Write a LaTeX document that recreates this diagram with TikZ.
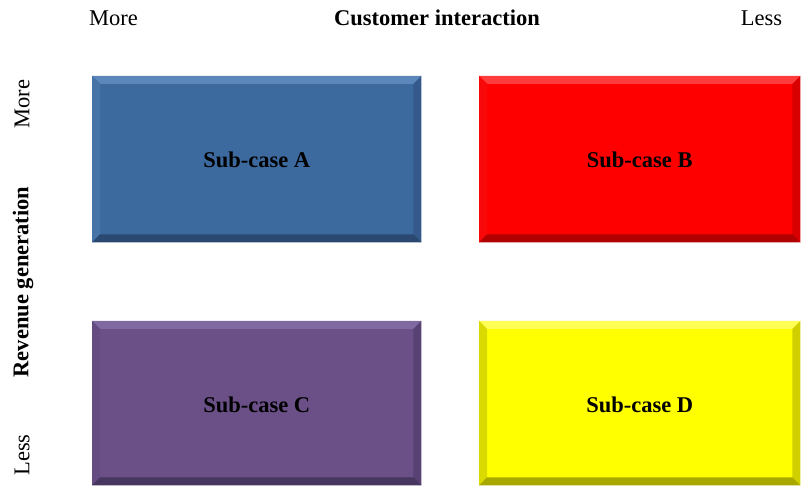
\documentclass[tikz,border=0pt]{standalone}
\usepackage{fontspec}
\setmainfont{Liberation Serif}
\usetikzlibrary{calc}
\pgfdeclarelayer{bg}
\pgfsetlayers{bg,main}
\definecolor{aMain}{HTML}{3D6A9E}
\definecolor{aTop}{HTML}{5C87BA}
\definecolor{aLeft}{HTML}{4673A8}
\definecolor{aRight}{HTML}{34598A}
\definecolor{aBot}{HTML}{2A4870}
\definecolor{bMain}{HTML}{FF0000}
\definecolor{bTop}{HTML}{FF3C3C}
\definecolor{bLeft}{HTML}{F80808}
\definecolor{bRight}{HTML}{D80000}
\definecolor{bBot}{HTML}{B00000}
\definecolor{cMain}{HTML}{6A5087}
\definecolor{cTop}{HTML}{8069A1}
\definecolor{cLeft}{HTML}{644C82}
\definecolor{cRight}{HTML}{584274}
\definecolor{cBot}{HTML}{47365F}
\definecolor{dMain}{HTML}{FFFF00}
\definecolor{dTop}{HTML}{FFFF55}
\definecolor{dLeft}{HTML}{DADA00}
\definecolor{dRight}{HTML}{D0D000}
\definecolor{dBot}{HTML}{A8A800}
\tikzset{
  lbl/.style={font=\fontsize{22.5}{27}\selectfont, inner sep=0pt, text=black},
  blbl/.style={font=\fontsize{22.5}{27}\selectfont\bfseries, inner sep=0pt, text=black},
  quad/.style={minimum width=329pt, minimum height=166pt, inner sep=0pt,
    font=\fontsize{22.5}{27}\selectfont\bfseries, text=black, anchor=north west},
}
\newcommand\bevelbox[6]{%
  % #1 node name, #2 top, #3 left, #4 right, #5 bottom, #6 width
  \fill[#2] (#1.north west) -- (#1.north east) -- ($(#1.north east)+(-#6,#6)$) -- ($(#1.north west)+(#6,#6)$) -- cycle;
  \fill[#3] (#1.north west) -- ($(#1.north west)+(#6,#6)$) -- ($(#1.south west)+(#6,-#6)$) -- (#1.south west) -- cycle;
  \fill[#4] (#1.north east) -- ($(#1.north east)+(-#6,#6)$) -- ($(#1.south east)+(-#6,-#6)$) -- (#1.south east) -- cycle;
  \fill[#5] (#1.south west) -- ($(#1.south west)+(#6,-#6)$) -- ($(#1.south east)+(-#6,-#6)$) -- (#1.south east) -- cycle;
  \begin{pgfonlayer}{bg}
    \foreach \i/\o in {6/0.03,5/0.04,4/0.05,3/0.06,2/0.07,1/0.08}
      \fill[black,opacity=\o] ($(#1.north west)+(-\i,-\i+3)$) rectangle ($(#1.south east)+(\i,\i+3)$);
  \end{pgfonlayer}
}
\begin{document}
\begin{tikzpicture}[x=1pt,y=-1pt]
\useasboundingbox[fill=white] (0,0) rectangle (801,486);
% top axis labels
\node[lbl] (topmore) at (113.5,18) {More};
\node[blbl] (toptitle) at (437,18) {Customer interaction};
\node[lbl] (topless) at (761.5,18) {Less};
% left axis labels
\node[lbl, rotate=90] (leftmore) at (22,104) {More};
\node[blbl, rotate=90] (lefttitle) at (23,282) {Revenue generation};
\node[lbl, rotate=90] (leftless) at (22,455) {Less};
% quadrants
\node[quad, fill=aMain, minimum width=329pt, minimum height=166pt] (A) at (92,76) {};
\bevelbox{A}{aTop}{aLeft}{aRight}{aBot}{8}
\node[blbl] (Atext) at ($(A.center)+(0,1)$) {Sub-case A};
\node[quad, fill=bMain, minimum width=321pt, minimum height=166pt] (B) at (479,76) {};
\bevelbox{B}{bTop}{bLeft}{bRight}{bBot}{8}
\node[blbl] (Btext) at ($(B.center)+(0,1)$) {Sub-case B};
\node[quad, fill=cMain, minimum width=329pt, minimum height=164pt] (C) at (92,321) {};
\bevelbox{C}{cTop}{cLeft}{cRight}{cBot}{8}
\node[blbl] (Ctext) at ($(C.center)+(0,2)$) {Sub-case C};
\node[quad, fill=dMain, minimum width=321pt, minimum height=164pt] (D) at (479,321) {};
\bevelbox{D}{dTop}{dLeft}{dRight}{dBot}{8}
\node[blbl] (Dtext) at ($(D.center)+(0,2)$) {Sub-case D};
\end{tikzpicture}
\end{document}
